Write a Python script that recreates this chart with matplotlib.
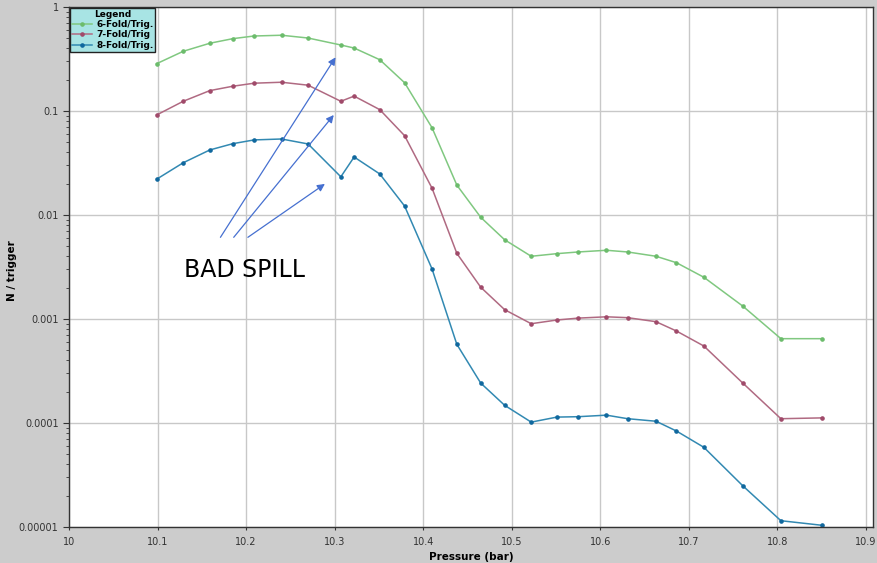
import matplotlib
matplotlib.use("Agg")
import matplotlib.pyplot as plt
from matplotlib.ticker import FixedLocator, LogLocator, NullFormatter

# pressure (bar), shared by all three series
pressure = [10.099, 10.129, 10.159, 10.185, 10.209, 10.240, 10.270, 10.307,
            10.322, 10.351, 10.379, 10.410, 10.438, 10.465, 10.492, 10.522,
            10.551, 10.575, 10.607, 10.631, 10.663, 10.686, 10.717, 10.761,
            10.804, 10.850]

six_fold = [0.285, 0.375, 0.448, 0.496, 0.526, 0.535, 0.503, 0.431,
            0.403, 0.311, 0.187, 0.069, 0.0194, 0.0095, 0.00578, 0.00401,
            0.00425, 0.00441, 0.00458, 0.00441, 0.00401, 0.00348, 0.00252, 0.00133,
            0.000647, 0.000647]

seven_fold = [0.0916, 0.124, 0.157, 0.173, 0.185, 0.189, 0.177, 0.124,
              0.139, 0.103, 0.0579, 0.0181, 0.00428, 0.00202, 0.00123, 0.000901,
              0.000978, 0.00102, 0.00105, 0.00103, 0.000942, 0.000767, 0.00055, 0.000242,
              0.000110, 0.000112]

eight_fold = [0.0221, 0.0318, 0.0422, 0.0485, 0.0527, 0.0538, 0.0482, 0.0233,
              0.0361, 0.0248, 0.0122, 0.00303, 0.000571, 0.000242, 0.000148, 0.000102,
              0.000114, 0.000115, 0.000119, 0.000110, 0.000104, 0.0000838, 0.0000584, 0.0000249,
              0.0000115, 0.0000104]

series = [
    ("6-Fold/Trig.", six_fold, "#80c880", "#6cbc6c"),
    ("7-Fold/Trig", seven_fold, "#b06a82", "#a04a6a"),
    ("8-Fold/Trig.", eight_fold, "#3289b2", "#10689e"),
]

x_ticks = [10.0, 10.1, 10.2, 10.3, 10.4, 10.5, 10.6, 10.7, 10.8, 10.9]
x_labels = ["10", "10.1", "10.2", "10.3", "10.4", "10.5", "10.6", "10.7", "10.8", "10.9"]
y_ticks = [1, 0.1, 0.01, 0.001, 0.0001, 0.00001]
y_labels = ["1", "0.1", "0.01", "0.001", "0.0001", "0.00001"]

# annotation: text position and arrow start/end points (data coords)
note_text = "BAD SPILL"
note_pos = (10.130, 0.00253)
arrow_starts = [(10.171, 0.0061), (10.186, 0.0061), (10.202, 0.0061)]
arrow_ends = [(10.301, 0.328), (10.299, 0.0915), (10.289, 0.0199)]

fig = plt.figure(figsize=(8.77, 5.63), dpi=100, facecolor="#cccccc")
ax = fig.add_axes([0.0787, 0.0639, 0.9167, 0.9237])
ax.set_facecolor("white")

for label, vals, lc, mc in series:
    ax.plot(pressure, vals, color=lc, lw=1.1, marker="o", ms=2.3,
            mfc=mc, mec=mc, label=label)

ax.set_yscale("log")
ax.set_ylim(0.00001, 1)
ax.set_xlim(10.0, 10.908)

ax.xaxis.set_major_locator(FixedLocator(x_ticks))
ax.set_xticklabels(x_labels)
ax.set_yticks(y_ticks)
ax.set_yticklabels(y_labels)
ax.yaxis.set_minor_locator(LogLocator(base=10, subs=range(2, 10)))
ax.yaxis.set_minor_formatter(NullFormatter())

ax.tick_params(axis="both", which="major", labelsize=7, colors="#333333",
               length=4, width=0.8)
ax.tick_params(axis="y", which="minor", length=2.5, width=0.6, colors="#333333")
ax.tick_params(axis="x", which="major", length=2, pad=5)

ax.grid(True, which="major", color="#c8c8c8", lw=1.0)
ax.set_axisbelow(True)
for side in ["left", "bottom", "right", "top"]:
    ax.spines[side].set_color("#333333")
    ax.spines[side].set_linewidth(1.0)

ax.set_xlabel("Pressure (bar)", fontsize=7.5, fontweight="bold", labelpad=4)
fig.text(0.014, 0.52, "N / trigger", rotation=90, fontsize=7.5,
         fontweight="bold", ha="center", va="center")

ax.text(note_pos[0], note_pos[1], note_text, fontsize=17, color="black",
        ha="left", va="baseline")
for start, end in zip(arrow_starts, arrow_ends):
    ax.annotate("", xy=end, xytext=start,
                arrowprops=dict(arrowstyle="-|>", color="#4670d0", lw=0.9,
                                mutation_scale=11, shrinkA=0, shrinkB=0))

leg = ax.legend(loc="upper left", title="Legend", fontsize=6.5,
                title_fontproperties={"weight": "bold", "size": 6.5},
                prop={"weight": "bold", "size": 6.5},
                frameon=True, fancybox=False, borderaxespad=0.1,
                handlelength=2.2, labelspacing=0.15, borderpad=0.2,
                handletextpad=0.5)
leg.get_frame().set_facecolor("#a8e4e4")
leg.get_frame().set_edgecolor("#222222")
leg.get_frame().set_alpha(1)

fig.savefig("out.png", dpi=100, facecolor=fig.get_facecolor())
